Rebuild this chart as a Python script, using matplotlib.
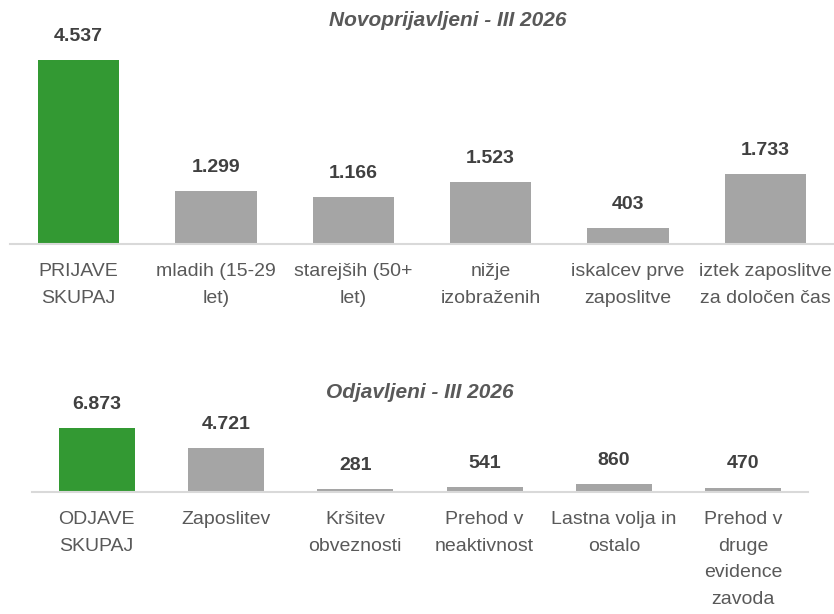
import matplotlib
matplotlib.use("Agg")
import matplotlib.pyplot as plt

plt.rcParams['font.family'] = ['Liberation Sans', 'DejaVu Sans']

# data
prijave_cats = ["PRIJAVE\nSKUPAJ", "mladih (15-29\nlet)", "starejših (50+\nlet)",
                "nižje\nizobraženih", "iskalcev prve\nzaposlitve", "iztek zaposlitve\nza določen čas"]
prijave_vals = [4537, 1299, 1166, 1523, 403, 1733]

odjave_cats = ["ODJAVE\nSKUPAJ", "Zaposlitev", "Kršitev\nobveznosti",
               "Prehod v\nneaktivnost", "Lastna volja in\nostalo", "Prehod v\ndruge\nevidence\nzavoda"]
odjave_vals = [6873, 4721, 281, 541, 860, 470]

green = '#339933'
grey = '#A5A5A5'
txt = '#595959'
lbl = '#404040'

def fmt(v):
    return f"{v:,}".replace(",", ".")

fig = plt.figure(figsize=(8.34, 6.14), dpi=100)
W, H = 834, 614

def panel(rect, cats, vals, ymax):
    ax = fig.add_axes(rect)
    colors = [green] + [grey] * (len(vals) - 1)
    x = range(len(vals))
    bars = ax.bar(x, vals, width=0.59, color=colors)
    for b, v in zip(bars, vals):
        ax.annotate(fmt(v), (b.get_x() + b.get_width() / 2, v),
                    xytext=(0, 17), textcoords='offset points',
                    ha='center', va='center', fontsize=14, fontweight='bold', color=lbl)
    ax.set_xlim(-0.5, len(vals) - 0.5)
    ax.set_ylim(0, ymax)
    ax.set_xticks(list(x))
    ax.set_xticklabels(cats, fontsize=14, color=txt, linespacing=1.72)
    ax.tick_params(axis='x', length=0, pad=14)
    ax.set_yticks([])
    for s in ['top', 'right', 'left']:
        ax.spines[s].set_visible(False)
    ax.spines['bottom'].set_color('#D9D9D9')
    ax.spines['bottom'].set_linewidth(1.5)
    return ax

panel([10 / W, (H - 244) / H, 824 / W, 244 / H], prijave_cats, prijave_vals, 6017)
panel([32 / W, (H - 492) / H, 776 / W, 112 / H], odjave_cats, odjave_vals, 11973)

fig.text(448 / W, (H - 21) / H, "Novoprijavljeni - III 2026", ha='center', va='center',
         fontsize=15, fontweight='bold', fontstyle='italic', color=txt)
fig.text(420 / W, (H - 393) / H, "Odjavljeni - III 2026", ha='center', va='center',
         fontsize=15, fontweight='bold', fontstyle='italic', color=txt)

fig.savefig("out.png", dpi=100)
